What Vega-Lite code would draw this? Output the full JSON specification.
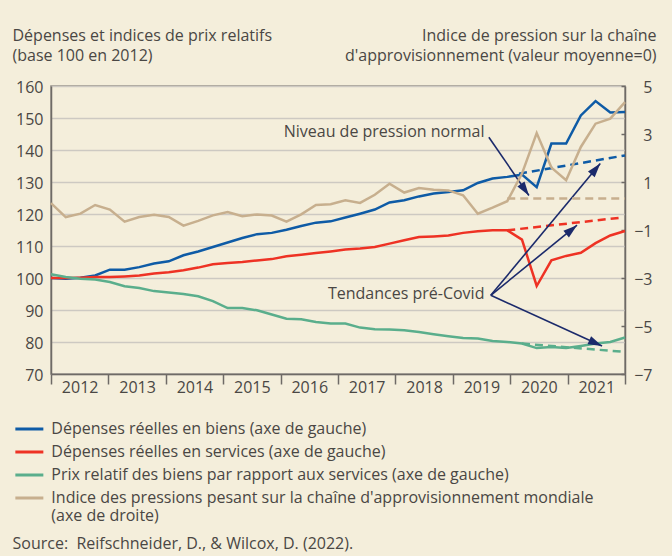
{
  "$schema": "https://vega.github.io/schema/vega-lite/v6.json",
  "width": 574,
  "height": 288,
  "autosize": {"type": "none"},
  "padding": {"left": 51, "top": 86, "right": 47, "bottom": 182},
  "background": "#F4EEDB",
  "config": {
    "font": "Open Sans",
    "view": {"stroke": "#8f8a84", "strokeWidth": 1.5},
    "axis": {"labelFontSize": 16, "labelColor": "#4a4744", "titleFontSize": 16, "titleColor": "#4a4744", "titleFontWeight": "normal", "domainColor": "#6e6a66", "domainWidth": 1.5, "tickColor": "#6e6a66", "tickWidth": 1.5, "labelFlush": false, "labelOverlap": false}
  },
  "datasets": {
    "main": [
      {"q":0,"b":100,"r":100,"g":101.2,"p":0.12},
      {"q":1,"b":99.8,"r":100,"g":100.3,"p":-0.46},
      {"q":2,"b":100.1,"r":100.1,"g":99.8,"p":-0.32},
      {"q":3,"b":100.8,"r":100.3,"g":99.5,"p":0.04},
      {"q":4,"b":102.6,"r":100.3,"g":98.75,"p":-0.15},
      {"q":5,"b":102.6,"r":100.5,"g":97.4,"p":-0.65},
      {"q":6,"b":103.4,"r":100.75,"g":96.9,"p":-0.46},
      {"q":7,"b":104.5,"r":101.4,"g":95.9,"p":-0.37},
      {"q":8,"b":105.2,"r":101.8,"g":95.5,"p":-0.46},
      {"q":9,"b":107.1,"r":102.4,"g":95,"p":-0.82},
      {"q":10,"b":108.3,"r":103.25,"g":94.3,"p":-0.62},
      {"q":11,"b":109.7,"r":104.3,"g":92.8,"p":-0.39},
      {"q":12,"b":111.1,"r":104.7,"g":90.6,"p":-0.25},
      {"q":13,"b":112.5,"r":105,"g":90.6,"p":-0.43},
      {"q":14,"b":113.7,"r":105.5,"g":89.9,"p":-0.35},
      {"q":15,"b":114.1,"r":105.9,"g":88.6,"p":-0.4},
      {"q":16,"b":115.1,"r":106.8,"g":87.3,"p":-0.65},
      {"q":17,"b":116.25,"r":107.3,"g":87.1,"p":-0.35},
      {"q":18,"b":117.3,"r":107.8,"g":86.25,"p":0.04},
      {"q":19,"b":117.7,"r":108.3,"g":85.75,"p":0.07},
      {"q":20,"b":118.9,"r":108.9,"g":85.75,"p":0.24},
      {"q":21,"b":120.1,"r":109.2,"g":84.5,"p":0.13},
      {"q":22,"b":121.4,"r":109.7,"g":84,"p":0.47},
      {"q":23,"b":123.6,"r":110.75,"g":83.9,"p":0.93},
      {"q":24,"b":124.3,"r":111.8,"g":83.7,"p":0.56},
      {"q":25,"b":125.5,"r":112.8,"g":83.1,"p":0.75},
      {"q":26,"b":126.4,"r":113,"g":82.4,"p":0.68},
      {"q":27,"b":126.9,"r":113.3,"g":81.8,"p":0.65},
      {"q":28,"b":127.4,"r":114.1,"g":81.25,"p":0.45},
      {"q":29,"b":129.7,"r":114.6,"g":81.1,"p":-0.32},
      {"q":30,"b":131.1,"r":114.9,"g":80.3,"p":-0.07},
      {"q":31,"b":131.6,"r":114.9,"g":80,"p":0.2},
      {"q":32,"b":132.3,"r":112,"g":79.5,"p":1.35},
      {"q":33,"b":128.4,"r":97.5,"g":78.1,"p":3.04},
      {"q":34,"b":142,"r":105.5,"g":78.4,"p":1.6},
      {"q":35,"b":142,"r":106.9,"g":78.1,"p":1.07},
      {"q":36,"b":150.8,"r":107.9,"g":78.75,"p":2.46},
      {"q":37,"b":155.3,"r":110.9,"g":79.5,"p":3.43},
      {"q":38,"b":151.7,"r":113.3,"g":80,"p":3.64},
      {"q":39,"b":151.9,"r":114.7,"g":81.4,"p":4.33}
    ],
    "trend": [
      {"series":"b","q":31.8,"v":132.6},
      {"series":"b","q":39,"v":138.3},
      {"series":"r","q":31,"v":114.9},
      {"series":"r","q":38.8,"v":118.9},
      {"series":"g","q":32,"v":79.5},
      {"series":"g","q":39,"v":76.9},
      {"series":"p","q":31,"v":0.31},
      {"series":"p","q":39,"v":0.31}
    ],
    "arrows": [
      {"q":29.75,"v":144.0,"q2":32.47,"v2":125.8},
      {"q":29.88,"v":94.6,"q2":37.32,"v2":135.75},
      {"q":29.88,"v":94.6,"q2":35.74,"v2":116.5},
      {"q":29.88,"v":94.6,"q2":37.44,"v2":78.75}
    ],
    "heads": [
      {"id":1,"q":32.47,"v":125.8},
      {"id":2,"q":37.32,"v":135.75},
      {"id":3,"q":35.74,"v":116.5},
      {"id":4,"q":37.44,"v":78.75}
    ],
    "notes": [
      {"q":29.45,"v":145.7,"t":"Niveau de pression normal"},
      {"q":29.45,"v":95.0,"t":"Tendances pré-Covid"}
    ]
  },
  "encoding": {
    "x": {
      "field": "q", "type": "quantitative",
      "scale": {"domain": [0, 39], "nice": false, "zero": false},
      "axis": {
        "values": [0, 3.9, 7.8, 11.7, 15.6, 19.5, 23.4, 27.3, 31.2, 35.1, 39],
        "labelExpr": "datum.value > 38 ? '' : '' + (2012 + round(datum.value / 3.9))",
        "labelOffset": 28.67, "labelAlign": "center", "labelBaseline": "middle", "labelPadding": 3.7,
        "tickSize": 10, "grid": false,
        "title": "Source:\u00a0 Reifschneider, D., & Wilcox, D. (2022).",
        "titleX": -39, "titleY": 174, "titleAlign": "left", "titleBaseline": "alphabetic", "titleAnchor": "start"
      }
    }
  },
  "layer": [
    {
      "encoding": {
        "y": {
          "field": "v", "type": "quantitative",
          "scale": {"domain": [70, 160], "nice": false, "zero": false},
          "axis": {
            "values": [70, 80, 90, 100, 110, 120, 130, 140, 150, 160],
            "grid": true, "gridColor": "#cdc9c2", "gridWidth": 1.5,
            "ticks": false, "labelPadding": 8, "labelOffset": 1.5,
            "title": ["Dépenses et indices de prix relatifs", "(base 100 en 2012)"],
            "titleAngle": 0, "titleAlign": "left", "titleBaseline": "alphabetic",
            "titleX": -39, "titleY": -45.5, "titleLineHeight": 20, "titleAnchor": "start"
          }
        }
      },
      "layer": [
        {
          "data": {"name": "main"},
          "transform": [{"fold": ["b", "r", "g"], "as": ["series", "v"]}],
          "mark": {"type": "line", "strokeWidth": 2.5},
          "encoding": {
            "color": {
              "field": "series", "type": "nominal",
              "scale": {"domain": ["b", "r", "g", "p"], "range": ["#0E5BA6", "#EE3224", "#5AAE8C", "#C7AF8E"]},
              "legend": {
                "title": null, "orient": "none", "legendX": -30.15, "legendY": 334.5, "direction": "vertical",
                "symbolType": "M-2,0H2", "symbolSize": 196, "symbolStrokeWidth": 3,
                "labelOffset": 13.5, "labelFontSize": 16, "labelColor": "#4a4744", "labelLimit": 700,
                "rowPadding": 6, "padding": 0,
                "labelExpr": "datum.value == 'b' ? 'Dépenses réelles en biens (axe de gauche)' : datum.value == 'r' ? 'Dépenses réelles en services (axe de gauche)' : datum.value == 'g' ? 'Prix relatif des biens par rapport aux services (axe de gauche)' : [\"Indice des pressions pesant sur la chaîne d'approvisionnement mondiale\", \"\u00a0(axe de droite)\"]"
              }
            }
          }
        },
        {
          "data": {"name": "trend"},
          "transform": [{"filter": "datum.series != 'p'"}],
          "mark": {"type": "line", "strokeWidth": 2.5, "strokeDash": [8, 5]},
          "encoding": {
            "color": {
              "field": "series", "type": "nominal",
              "scale": {"domain": ["b", "r", "g", "p"], "range": ["#0E5BA6", "#EE3224", "#5AAE8C", "#C7AF8E"]},
              "legend": null
            }
          }
        },
        {
          "data": {"name": "arrows"},
          "mark": {"type": "rule", "color": "#1B2A6B", "strokeWidth": 1.6},
          "encoding": {"x2": {"field": "q2"}, "y2": {"field": "v2"}}
        },
        {
          "data": {"name": "heads"},
          "transform": [{"filter": "datum.id == 1"}],
          "mark": {"type": "point", "shape": "M0,0L-0.75,2.4L0.75,2.4Z", "filled": true, "color": "#1B2A6B", "size": 136, "opacity": 1, "angle": 145.4}
        },
        {
          "data": {"name": "heads"},
          "transform": [{"filter": "datum.id == 2"}],
          "mark": {"type": "point", "shape": "M0,0L-0.75,2.4L0.75,2.4Z", "filled": true, "color": "#1B2A6B", "size": 136, "opacity": 1, "angle": 39.7}
        },
        {
          "data": {"name": "heads"},
          "transform": [{"filter": "datum.id == 3"}],
          "mark": {"type": "point", "shape": "M0,0L-0.75,2.4L0.75,2.4Z", "filled": true, "color": "#1B2A6B", "size": 136, "opacity": 1, "angle": 50.9}
        },
        {
          "data": {"name": "heads"},
          "transform": [{"filter": "datum.id == 4"}],
          "mark": {"type": "point", "shape": "M0,0L-0.75,2.4L0.75,2.4Z", "filled": true, "color": "#1B2A6B", "size": 136, "opacity": 1, "angle": 114.5}
        },
        {
          "data": {"name": "notes"},
          "mark": {"type": "text", "align": "right", "baseline": "middle", "fontSize": 16, "color": "#4a4744"},
          "encoding": {"text": {"field": "t"}}
        }
      ]
    },
    {
      "encoding": {
        "y": {
          "field": "v", "type": "quantitative",
          "scale": {"domain": [-7, 5], "nice": false, "zero": false},
          "axis": {
            "orient": "right",
            "values": [5, 3, 1, -1, -3, -5, -7],
            "grid": false, "ticks": true, "tickSize": -4,
            "labelPadding": 31, "labelAlign": "right", "labelOffset": 1.5,
            "title": ["Indice de pression sur la chaîne", "d'approvisionnement (valeur moyenne=0)"],
            "titleAngle": 0, "titleAlign": "right", "titleBaseline": "alphabetic",
            "titleX": 31, "titleY": -45.5, "titleLineHeight": 20, "titleAnchor": "end"
          }
        }
      },
      "layer": [
        {
          "data": {"name": "main"},
          "transform": [{"fold": ["p"], "as": ["series", "v"]}],
          "mark": {"type": "line", "strokeWidth": 2.5},
          "encoding": {
            "color": {
              "field": "series", "type": "nominal",
              "scale": {"domain": ["b", "r", "g", "p"], "range": ["#0E5BA6", "#EE3224", "#5AAE8C", "#C7AF8E"]},
              "legend": {
                "title": null, "orient": "none", "legendX": -30.15, "legendY": 334.5, "direction": "vertical",
                "symbolType": "M-2,0H2", "symbolSize": 196, "symbolStrokeWidth": 3,
                "labelOffset": 13.5, "labelFontSize": 16, "labelColor": "#4a4744", "labelLimit": 700,
                "rowPadding": 6, "padding": 0,
                "labelExpr": "datum.value == 'b' ? 'Dépenses réelles en biens (axe de gauche)' : datum.value == 'r' ? 'Dépenses réelles en services (axe de gauche)' : datum.value == 'g' ? 'Prix relatif des biens par rapport aux services (axe de gauche)' : [\"Indice des pressions pesant sur la chaîne d'approvisionnement mondiale\", \"\u00a0(axe de droite)\"]"
              }
            }
          }
        },
        {
          "data": {"name": "trend"},
          "transform": [{"filter": "datum.series == 'p'"}],
          "mark": {"type": "line", "strokeWidth": 2.5, "strokeDash": [8, 5]},
          "encoding": {
            "color": {
              "field": "series", "type": "nominal",
              "scale": {"domain": ["b", "r", "g", "p"], "range": ["#0E5BA6", "#EE3224", "#5AAE8C", "#C7AF8E"]},
              "legend": null
            }
          }
        }
      ]
    }
  ],
  "resolve": {"scale": {"y": "independent"}}
}
